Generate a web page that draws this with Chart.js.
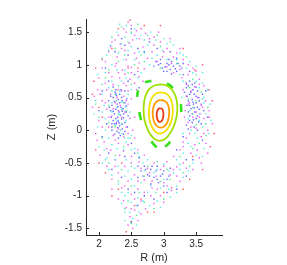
<!DOCTYPE html>
<html>
<head>
<meta charset="utf-8">
<script src="https://cdn.jsdelivr.net/npm/chart.js@4.4.0/dist/chart.umd.min.js"></script>
<style>
  html, body { margin: 0; padding: 0; background: #fff; }
  #wrap { width: 287px; height: 265px; }
</style>
</head>
<body>
<div id="wrap"><canvas id="poincare" width="287" height="265"></canvas></div>
<script>
// Poincare section, R-Z plane

const xTicks = [2, 2.5, 3, 3.5];
const yTicks = [-1.5, -1, -0.5, 0, 0.5, 1, 1.5];

// closed flux surfaces (inner to outer)
const ringRed = [[2.945,0.337],[2.975,0.325],[2.99,0.29],[2.996,0.24],[2.99,0.19],[2.972,0.145],[2.945,0.127],[2.917,0.14],[2.898,0.18],[2.892,0.235],[2.898,0.285],[2.918,0.325],[2.945,0.337]];
const ringOrange = [[2.95,0.462],[3.01,0.45],[3.055,0.41],[3.08,0.34],[3.085,0.26],[3.075,0.18],[3.045,0.1],[3.0,0.055],[2.95,0.04],[2.9,0.06],[2.86,0.11],[2.835,0.19],[2.83,0.27],[2.84,0.35],[2.87,0.415],[2.91,0.452],[2.95,0.462]];
const ringYellow = [[2.95,0.58],[3.03,0.565],[3.09,0.51],[3.125,0.43],[3.14,0.33],[3.135,0.22],[3.11,0.12],[3.065,0.03],[3.0,-0.03],[2.94,-0.05],[2.88,-0.03],[2.83,0.03],[2.79,0.12],[2.772,0.23],[2.775,0.34],[2.795,0.44],[2.835,0.52],[2.89,0.565],[2.95,0.58]];
const ringLime = [[2.94,0.70],[3.04,0.685],[3.12,0.63],[3.175,0.54],[3.205,0.43],[3.21,0.31],[3.195,0.19],[3.16,0.07],[3.1,-0.04],[3.03,-0.125],[2.95,-0.16],[2.87,-0.14],[2.8,-0.07],[2.745,0.03],[2.705,0.15],[2.69,0.28],[2.695,0.41],[2.72,0.53],[2.77,0.62],[2.85,0.68],[2.94,0.70]];

// island chain
const islands = [
  [[2.71,0.735],[2.76,0.745],[2.81,0.755]],
  [[3.05,0.715],[3.10,0.685],[3.14,0.645]],
  [[2.605,0.61],[2.595,0.56],[2.59,0.51]],
  [[2.625,0.28],[2.635,0.22],[2.65,0.155]],
  [[3.265,0.40],[3.27,0.34],[3.27,0.28]],
  [[2.81,-0.17],[2.85,-0.22],[2.89,-0.26]],
  [[3.02,-0.25],[3.06,-0.22],[3.10,-0.175]]
];

// chaotic field lines
const ptsMagenta = [[2.45,1.65],[2.5,1.6],[2.38,1.55],[2.58,1.52],[2.3,1.45],[2.72,1.48],[2.62,1.4],[2.85,1.42],[2.2,1.35],[2.47,1.33],[2.95,1.35],[2.35,1.25],[2.68,1.27],[3.05,1.25],[2.15,1.2],[2.55,1.18],[2.82,1.2],[3.2,1.18],[2.28,1.12],[2.42,1.08],[2.75,1.1],[2.98,1.12],[3.3,1.08],[2.1,1.05],[2.62,1.03],[3.12,1.02],[2.9,1.05],
  [2.05,0.95],[2.25,0.98],[2.5,0.96],[2.7,0.94],[3.05,0.97],[3.25,0.93],[3.45,0.95],[2.15,0.88],[2.4,0.86],[2.6,0.9],[3.15,0.88],[3.38,0.85],[2.0,0.8],[2.32,0.8],[2.48,0.78],[3.28,0.8],[3.55,0.78],[2.1,0.72],[2.22,0.7],[2.42,0.68],[2.55,0.72],[3.35,0.7],[3.48,0.66],[3.62,0.68],[1.98,0.62],[2.3,0.62],[2.45,0.6],[3.42,0.6],
  [1.93,0.52],[2.18,0.55],[2.28,0.5],[2.38,0.52],[2.5,0.48],[3.35,0.52],[3.52,0.5],[3.65,0.45],[2.05,0.45],[2.25,0.42],[2.33,0.38],[2.45,0.4],[3.4,0.42],[3.58,0.38],[1.9,0.35],[2.12,0.32],[2.3,0.3],[2.4,0.28],[3.33,0.3],[3.5,0.28],[3.7,0.3],[2.2,0.22],[2.35,0.2],[2.48,0.18],[3.45,0.2],[3.62,0.18],[2.0,0.15],[2.27,0.12],[3.38,0.12],[3.75,0.1],
  [2.15,0.05],[2.3,0.02],[2.42,0.05],[3.5,0.03],[3.68,0.0],[1.95,-0.05],[2.22,-0.08],[2.38,-0.1],[2.55,-0.12],[3.4,-0.05],[3.58,-0.1],[2.08,-0.18],[2.3,-0.2],[2.45,-0.22],[3.3,-0.18],[3.48,-0.22],[3.65,-0.2],[2.18,-0.3],[2.38,-0.32],[2.6,-0.3],[3.25,-0.3],[3.42,-0.35],[2.02,-0.38],[2.5,-0.4],[2.7,-0.38],[3.15,-0.4],[3.55,-0.42],
  [2.25,-0.45],[2.62,-0.48],[2.85,-0.5],[3.05,-0.48],[3.3,-0.5],[2.12,-0.55],[2.4,-0.55],[2.75,-0.58],[2.95,-0.6],[3.2,-0.56],[3.45,-0.6],[2.3,-0.65],[2.55,-0.68],[2.88,-0.7],[3.1,-0.68],[2.2,-0.75],[2.45,-0.78],[2.7,-0.76],[3.0,-0.8],[3.25,-0.78],[2.35,-0.88],[2.6,-0.9],[2.82,-0.88],[3.12,-0.92],[2.5,-0.98],[2.95,-1.0],
  [2.3,-1.05],[2.65,-1.08],[2.85,-1.12],[2.42,-1.18],[2.55,-1.22],[2.72,-1.2],[2.48,-1.32],[2.6,-1.38],[2.45,-1.45],[2.52,-1.5],
  [2.18,1.28],[2.33,1.32],[2.52,1.38],[2.4,1.22],[2.27,1.02],[2.45,0.98],[2.58,1.1],[2.36,0.92],[2.2,0.82],[2.5,0.88],[2.62,0.82],[2.12,0.62],[2.38,0.72],[2.58,0.62],[2.68,0.75],[2.3,0.88],
  [2.42,1.5],[2.65,1.55],[2.78,1.4],[2.92,1.5],[3.1,1.4],[2.55,1.45],[2.25,1.38],[3.0,1.2],[3.25,1.25],[3.15,1.12],[3.38,1.0],[3.5,0.9],[2.85,1.3],
  [3.55,0.7],[3.3,0.62],[3.38,0.4],[3.6,0.35],[3.55,0.2],[3.32,0.2],[3.7,0.2],[3.42,0.05],[3.62,-0.05],[3.35,-0.12],[3.52,-0.3],[3.68,-0.35],[3.3,-0.25],[3.58,-0.5],
  [2.02,0.55],[2.1,0.42],[2.22,0.33],[2.42,0.45],[2.15,0.2],[2.05,0.05],[2.25,-0.15],[2.45,-0.05],[2.12,-0.28],[2.32,-0.38],[1.97,-0.15],[2.55,0.2],[2.52,0.0],[2.35,0.6],
  [2.5,-0.5],[2.65,-0.58],[2.78,-0.65],[3.0,-0.55],[3.15,-0.6],[3.35,-0.58],[2.25,-0.55],[2.6,-0.78],[2.82,-0.78],[3.05,-0.85],[2.4,-0.85],[2.9,-0.9],[2.7,-0.95],[2.55,-1.05],[3.0,-1.1],[2.38,-1.08],[2.65,-1.28],[2.5,-1.2],[2.8,-1.0],[3.2,-0.7],[2.2,-0.9]];

const ptsBlue = [[2.25,0.58],[2.32,0.55],[2.4,0.6],[2.22,0.5],[2.3,0.47],[2.36,0.45],[2.28,0.4],[2.2,0.38],[2.34,0.35],[2.42,0.37],[2.26,0.32],[2.31,0.28],[2.38,0.25],[2.24,0.25],[2.18,0.3],[2.29,0.2],[2.35,0.17],[2.22,0.15],[2.4,0.12],[2.27,0.1],[2.32,0.07],[2.2,0.05],[2.36,0.02],[2.28,-0.02],[2.24,-0.06],[2.33,-0.08],[2.3,0.14],[2.37,0.33],[2.15,0.45],[2.43,0.48],[2.26,0.62],[2.19,0.2],[2.45,0.22],[2.12,0.1],[2.4,-0.02],
  [3.4,0.75],[3.48,0.72],[3.35,0.65],[3.45,0.62],[3.52,0.6],[3.4,0.55],[3.5,0.52],[3.44,0.47],[3.38,0.45],[3.55,0.45],[3.46,0.4],[3.52,0.35],[3.42,0.33],[3.36,0.38],[3.48,0.28],[3.56,0.25],[3.4,0.22],[3.5,0.18],[3.44,0.12],[3.58,0.1],[3.35,0.08],[3.47,0.05],[3.6,0.55],[3.32,0.58],[3.62,0.3],
  [2.92,1.0],[2.98,0.95],[3.05,1.02],[3.1,0.93],[3.15,0.98],[3.2,0.9],[3.08,1.08],[3.22,1.02],[2.95,1.08],[3.28,0.95],[2.85,0.98],[3.0,0.9],[3.12,0.86],
  [2.7,-0.55],[2.8,-0.6],[2.9,-0.55],[3.0,-0.62],[2.75,-0.68],[2.85,-0.72],[2.95,-0.7],[3.05,-0.75],[2.65,-0.62],[2.92,-0.8],[3.1,-0.58],[2.6,-0.72],[2.8,-0.82],
  [2.5,1.55],[2.35,1.4],[2.78,1.35],[2.6,1.25],[2.25,1.2],[3.1,1.2],[2.45,1.15],[2.9,1.25],[2.1,0.95],[2.55,0.85],[3.4,0.9],[2.62,0.65],[2.0,0.3],[3.68,0.2],[2.05,-0.1],[2.5,-0.2],[3.6,-0.15],[2.4,-0.4],[3.35,-0.45],[2.2,-0.6],[3.35,-0.7],[2.45,-0.9],[3.05,-0.95],[2.7,-1.0],[2.6,-1.15],[2.5,-1.4],[3.2,-0.3],[2.62,-0.42],
  [2.27,0.53],[2.35,0.5],[2.24,0.44],[2.32,0.42],[2.4,0.42],[2.29,0.36],[2.36,0.29],[2.22,0.29],[2.33,0.23],[2.26,0.18],[2.38,0.19],[2.31,0.11],[2.24,0.1],[2.36,0.09],[2.29,0.04],[2.2,0.0],[2.31,-0.04],[2.38,-0.06],[2.26,0.55],[2.18,0.52],[2.42,0.28],[2.16,0.35],[2.2,0.1],[2.44,0.05],[2.34,0.62],[2.22,0.66],[2.3,-0.12],
  [3.44,0.7],[3.38,0.68],[3.5,0.66],[3.42,0.58],[3.47,0.55],[3.36,0.52],[3.54,0.5],[3.45,0.43],[3.5,0.42],[3.4,0.38],[3.47,0.34],[3.55,0.32],[3.38,0.28],[3.44,0.25],[3.52,0.22],[3.46,0.16],[3.4,0.15],[3.54,0.13],[3.38,0.02],[3.52,0.0],[3.58,0.4],[3.35,0.72],
  [2.95,1.02],[3.02,0.97],[3.08,1.0],[3.18,0.94],[3.25,0.98],[3.12,1.05],[2.88,1.05],[3.2,1.1],[3.3,1.02],[3.05,0.9],
  [2.72,-0.6],[2.78,-0.7],[2.88,-0.62],[2.98,-0.67],[3.08,-0.7],[2.68,-0.7],[2.9,-0.75],[3.0,-0.85],[2.82,-0.55],[2.6,-0.55],
  [2.15,0.75],[2.45,0.75],[2.7,1.2],[2.4,1.3],[3.3,0.85],[2.05,0.6],[3.65,0.6],[3.3,-0.1],[2.15,-0.35],[2.55,-0.35],[3.45,-0.45],[2.35,-0.72],[3.2,-0.9],[2.55,-0.95],[2.85,-1.05]];

const ptsCyan = [[2.42,1.6],[2.55,1.55],[2.28,1.5],[2.8,1.5],[2.65,1.45],[2.4,1.42],[3.0,1.4],[2.18,1.3],[2.5,1.28],[2.75,1.3],[3.15,1.3],[2.3,1.18],[2.9,1.15],[3.3,1.15],[2.05,1.1],[2.55,1.08],[3.4,1.05],[2.2,1.0],[2.78,1.0],[3.5,0.98],[2.4,0.92],[3.6,0.88],[1.98,0.85],[2.35,0.75],[2.6,0.8],[3.3,0.75],[3.6,0.72],[2.15,0.65],[2.5,0.62],[3.55,0.65],[1.95,0.45],[2.35,0.43],[2.45,0.55],[3.62,0.5],[3.72,0.4],[2.08,0.38],[2.28,0.35],[3.4,0.3],[1.92,0.25],[2.32,0.24],[2.42,0.15],[3.55,0.15],[3.73,0.15],[2.1,0.18],[2.25,0.08],[3.42,0.0],[3.7,-0.05],[1.98,0.05],[2.35,-0.05],[2.5,-0.08],[3.52,-0.12],[2.15,-0.12],[2.42,-0.18],[3.38,-0.2],[3.62,-0.28],[2.0,-0.25],[2.28,-0.28],[2.55,-0.28],[3.3,-0.35],[3.5,-0.38],[2.12,-0.42],[2.42,-0.45],[2.75,-0.45],[3.0,-0.52],[3.2,-0.45],[3.45,-0.5],[2.05,-0.5],[2.3,-0.55],[2.55,-0.58],[2.85,-0.65],[3.15,-0.65],[3.38,-0.62],[2.2,-0.68],[2.4,-0.7],[2.65,-0.8],[2.95,-0.88],[3.2,-0.85],[2.3,-0.82],[2.55,-0.85],[2.75,-0.95],[3.1,-1.02],[2.4,-1.0],[2.6,-1.03],[2.9,-1.08],[2.35,-1.12],[2.5,-1.1],[2.78,-1.15],[2.62,-1.25],[2.52,-1.35],[2.4,-1.25],[3.0,-0.75],[2.68,-0.5],[3.25,-0.6],[2.58,1.4],[2.98,1.22],[3.2,1.08],[2.7,1.18],[2.12,1.15],
  [2.32,1.62],[2.5,1.48],[2.7,1.38],[2.88,1.38],[3.05,1.32],[2.35,1.32],[2.62,1.2],[2.15,1.22],[2.45,1.22],[3.25,1.18],[2.82,1.1],[3.05,1.08],[2.38,1.08],[2.1,0.88],[2.28,0.92],[3.35,0.95],[3.45,0.88],[2.65,0.88],[2.42,0.8],[2.2,0.75],[3.5,0.75],[3.68,0.62],[2.05,0.55],[2.32,0.6],[3.28,0.5],[3.62,0.42],[2.2,0.42],[2.4,0.35],[3.45,0.35],[3.65,0.25],[2.05,0.28],[2.2,0.28],[2.48,0.28],[2.35,0.1],[3.38,0.18],[3.6,0.05],[2.28,0.15],[2.1,0.0],[2.45,-0.12],[3.3,-0.05],[3.48,-0.05],[2.2,-0.22],[2.38,-0.3],[3.42,-0.25],[3.6,-0.4],[2.08,-0.3],[2.5,-0.3],[2.62,-0.4],[3.25,-0.52],[2.25,-0.45],[2.45,-0.62],[2.7,-0.62],[2.9,-0.6],[3.08,-0.62],[3.3,-0.72],[2.15,-0.6],[2.5,-0.75],[2.8,-0.85],[3.08,-0.9],[2.45,-0.95],[2.68,-1.08],[2.95,-1.18],[2.58,-1.15],[2.48,-1.25],[2.4,-1.38],[2.58,-1.45],[3.2,-0.95],[2.35,-0.95]];

const ptsGreen = [[2.35,1.58],[2.6,1.62],[2.2,1.42],[2.9,1.45],[2.45,1.35],[3.1,1.35],[2.65,1.15],[2.3,1.05],[3.35,1.12],[2.15,0.92],[2.7,1.05],[3.5,0.85],[2.05,0.7],[2.5,0.7],[3.45,0.78],[2.25,0.55],[3.58,0.58],[1.95,0.4],[2.38,0.42],[3.68,0.35],[2.3,0.25],[2.15,0.12],[3.5,0.08],[2.33,0.0],[3.65,-0.08],[2.05,-0.12],[2.48,-0.12],[3.45,-0.28],[2.25,-0.38],[2.6,-0.35],[3.25,-0.4],[2.15,-0.5],[2.9,-0.48],[3.4,-0.55],[2.35,-0.6],[2.7,-0.7],[3.1,-0.75],[2.5,-0.85],[2.88,-0.95],[2.45,-1.08],[2.7,-1.1],[2.58,-1.3],[2.5,-1.42],[3.0,-1.05],[2.42,0.3],[2.27,0.45],[3.38,0.48],[2.95,0.95],[2.55,1.0],[3.25,0.85],[2.0,0.2],[2.38,-0.25],
  [2.5,1.5],[2.75,1.45],[2.25,1.25],[2.95,1.28],[2.4,1.15],[3.2,1.02],[2.1,0.8],[2.45,0.88],[3.4,0.65],[2.3,0.68],[3.6,0.48],[2.15,0.38],[2.35,0.32],[3.45,0.25],[2.25,0.05],[3.55,-0.2],[2.4,-0.12],[2.1,-0.45],[2.5,-0.55],[3.3,-0.65],[2.75,-0.55],[2.95,-0.78],[2.62,-0.95],[2.4,-1.2],[2.85,-1.2],[3.05,-0.6],[2.3,-0.78],[2.2,0.6],[3.5,0.45],[3.65,0.1]];

const ptsRed = [[2.48,1.68],[2.95,1.6],[2.05,1.08],[1.95,0.95],[3.6,1.0],[1.9,0.55],[2.6,0.95],[3.75,0.45],[1.95,-0.3],[3.78,-0.05],[2.1,-0.65],[3.6,-0.6],[2.3,-0.9],[3.3,-0.9],[2.55,-1.15],[2.42,-1.55],[2.75,-1.25],[2.65,-1.05],[2.2,1.25],[3.45,-0.4],[2.35,-0.5],[3.12,-0.88],[2.05,0.2],
  [2.3,1.55],[2.7,1.6],[3.3,1.25],[1.92,0.75],[2.0,0.35],[3.7,0.62],[3.72,-0.25],[2.0,-0.5],[3.4,-0.75],[2.2,-1.0],[2.85,-1.25],[2.5,-1.4],[3.0,-0.95],[2.45,0.95],[3.48,0.92]];

const toXY = arr => arr.map(([x, y]) => ({ x, y }));

function cloud(pts, color) {
  return {
    data: toXY(pts), showLine: false, order: 2,
    pointStyle: 'rect', pointRadius: 1, pointBorderWidth: 0,
    pointBackgroundColor: color, pointHoverRadius: 1
  };
}

function curve(pts, color, width, tension) {
  return {
    data: toXY(pts), showLine: true, order: 0,
    borderColor: color, borderWidth: width, tension,
    pointRadius: 0, pointHoverRadius: 0, fill: false
  };
}

const datasets = [
  curve(ringRed, '#f03a10', 1.8, 0.4),
  curve(ringOrange, '#ff9a00', 1.8, 0.4),
  curve(ringYellow, '#f2e000', 1.8, 0.4),
  curve(ringLime, '#9ee000', 1.8, 0.4),
  ...islands.map(isl => curve(isl, '#33e01a', 2.6, 0.3)),
  cloud(ptsCyan, 'rgba(40,230,230,0.8)'),
  cloud(ptsGreen, 'rgba(40,230,130,0.8)'),
  cloud(ptsMagenta, 'rgba(240,40,240,0.75)'),
  cloud(ptsBlue, 'rgba(50,50,255,0.75)'),
  cloud(ptsRed, 'rgba(255,40,60,0.8)')
];

const axisColor = '#262626';

// MATLAB-style inward tick marks
const inwardTicks = {
  id: 'inwardTicks',
  afterDraw(chart) {
    const { ctx, chartArea: a, scales: { x, y } } = chart;
    ctx.save();
    ctx.strokeStyle = axisColor;
    ctx.lineWidth = 1;
    ctx.beginPath();
    xTicks.forEach(v => {
      const px = Math.round(x.getPixelForValue(v)) + 0.5;
      ctx.moveTo(px, a.bottom); ctx.lineTo(px, a.bottom - 3);
    });
    yTicks.forEach(v => {
      const py = Math.round(y.getPixelForValue(v)) + 0.5;
      ctx.moveTo(a.left, py); ctx.lineTo(a.left + 3, py);
    });
    ctx.stroke();
    ctx.restore();
  }
};

new Chart(document.getElementById('poincare'), {
  type: 'scatter',
  data: { datasets },
  plugins: [inwardTicks],
  options: {
    responsive: false,
    animation: false,
    events: [],
    layout: { padding: { left: 41, top: 19, right: 65, bottom: 0 } },
    plugins: { legend: { display: false }, tooltip: { enabled: false } },
    scales: {
      x: {
        type: 'linear', min: 1.8, max: 3.9,
        afterBuildTicks: s => { s.ticks = xTicks.map(value => ({ value })); },
        afterFit: s => { s.height = 30; },
        grid: { display: false, drawTicks: false },
        border: { display: true, color: axisColor, width: 1 },
        ticks: { padding: 3, color: axisColor, font: { family: 'Liberation Sans, Arial', size: 10 }, callback: v => String(v), maxRotation: 0 },
        title: { display: true, text: 'R (m)', color: axisColor, padding: { top: 0, bottom: 0 }, font: { family: 'Liberation Sans, Arial', size: 11 } }
      },
      y: {
        type: 'linear', min: -1.6, max: 1.7,
        afterBuildTicks: s => { s.ticks = yTicks.map(value => ({ value })); },
        afterFit: s => { s.width = 45; },
        grid: { display: false, drawTicks: false },
        border: { display: true, color: axisColor, width: 1 },
        ticks: { padding: 4, color: axisColor, font: { family: 'Liberation Sans, Arial', size: 10 }, callback: v => String(v) },
        title: { display: true, text: 'Z (m)', color: axisColor, padding: { top: 4, bottom: 0 }, font: { family: 'Liberation Sans, Arial', size: 11 } }
      }
    }
  }
});
</script>
</body>
</html>
